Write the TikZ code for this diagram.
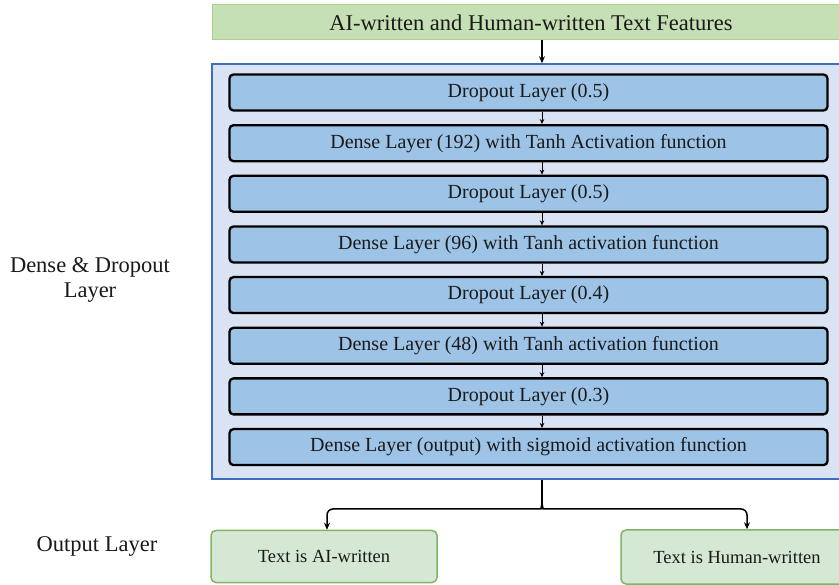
\documentclass[tikz,border=0pt]{standalone}
\usepackage{fontspec}
\setmainfont{Liberation Serif}
\usetikzlibrary{arrows.meta,calc}
\definecolor{topgreen}{HTML}{C5E0B4}
\definecolor{topgreenborder}{HTML}{A9D18E}
\definecolor{contfill}{HTML}{DAE3F3}
\definecolor{contborder}{HTML}{3F6DBF}
\definecolor{layerblue}{HTML}{9DC3E6}
\definecolor{outfill}{HTML}{D5E8D4}
\definecolor{outborder}{HTML}{82B366}
\definecolor{txt}{HTML}{1A1A1A}
\begin{document}
\begin{tikzpicture}[x=1pt,y=-1pt,
  layerbox/.style={draw=black, line width=2.3pt, fill=layerblue, rounded corners=4pt,
    minimum width=598pt, minimum height=36pt, inner sep=0pt, text=txt,
    font=\fontsize{20}{24}\selectfont},
  topbox/.style={draw=topgreenborder, line width=1pt, fill=topgreen, minimum width=638pt,
    minimum height=35pt, inner sep=0pt, text=txt, font=\fontsize{22.5}{26}\selectfont},
  contbox/.style={draw=contborder, line width=1.5pt, fill=contfill, minimum width=630pt,
    minimum height=415pt, inner sep=0pt},
  outbox/.style={draw=outborder, line width=1.5pt, fill=outfill, rounded corners=5pt,
    inner sep=0pt, text=txt, font=\fontsize{18.5}{22}\selectfont},
  sidelbl/.style={align=center, text=txt, font=\fontsize{22.5}{25}\selectfont},
  arr/.style={-{Stealth[length=7pt,width=6pt]}, line width=1.5pt},
  smallarr/.style={-{Stealth[length=5pt,width=4.5pt]}, line width=1pt}
]
\useasboundingbox (0,0) rectangle (839,585);
\clip (0,0) rectangle (839,585);
\fill[white] (0,0) rectangle (839,585);

\coordinate (ax) at (542,0);

\node[topbox] (top) at (531,22.5) {AI-written and Human-written Text Features};
\node[contbox] (cont) at (527,271.5) {};

\node[layerbox] (L1) at (528.5,92.5) {Dropout Layer (0.5)};
\node[layerbox] (L2) at (528.5,143.2) {Dense Layer (192) with Tanh Activation function};
\node[layerbox] (L3) at (528.5,193.8) {Dropout Layer (0.5)};
\node[layerbox] (L4) at (528.5,244.5) {Dense Layer (96) with Tanh activation function};
\node[layerbox] (L5) at (528.5,295.1) {Dropout Layer (0.4)};
\node[layerbox] (L6) at (528.5,345.8) {Dense Layer (48) with Tanh activation function};
\node[layerbox] (L7) at (528.5,396.4) {Dropout Layer (0.3)};
\node[layerbox] (L8) at (528.5,447.1) {Dense Layer (output) with sigmoid activation function};

\draw[arr] (top.south -| ax) -- (cont.north -| ax);
\foreach \a/\b in {L1/L2,L2/L3,L3/L4,L4/L5,L5/L6,L6/L7,L7/L8}
  \draw[smallarr] (\a.south -| ax) -- (\b.north -| ax);

\node[outbox, minimum width=226pt, minimum height=52pt] (o1) at (324,556.5) {Text is AI-written};
\node[outbox, minimum width=232pt, minimum height=54pt] (o2) at (737,557) {Text is Human-written};

\coordinate (stem) at (542,502);
\coordinate (bl) at (327,509);
\coordinate (br) at (747,509);
\draw[line width=1.5pt] (cont.south -| ax) -- (stem);
\draw[arr, rounded corners=6pt] (stem) .. controls (542,507) and (540,509) .. (535,509)
  -- (bl) -- (o1.north -| bl);
\draw[arr, rounded corners=6pt] (stem) .. controls (542,507) and (544,509) .. (549,509)
  -- (br) -- (o2.north -| br);

\node[sidelbl] (ldd) at (90,280) {Dense \& Dropout\\Layer};
\node[sidelbl] (lout) at (97,546) {Output Layer};
\end{tikzpicture}
\end{document}
